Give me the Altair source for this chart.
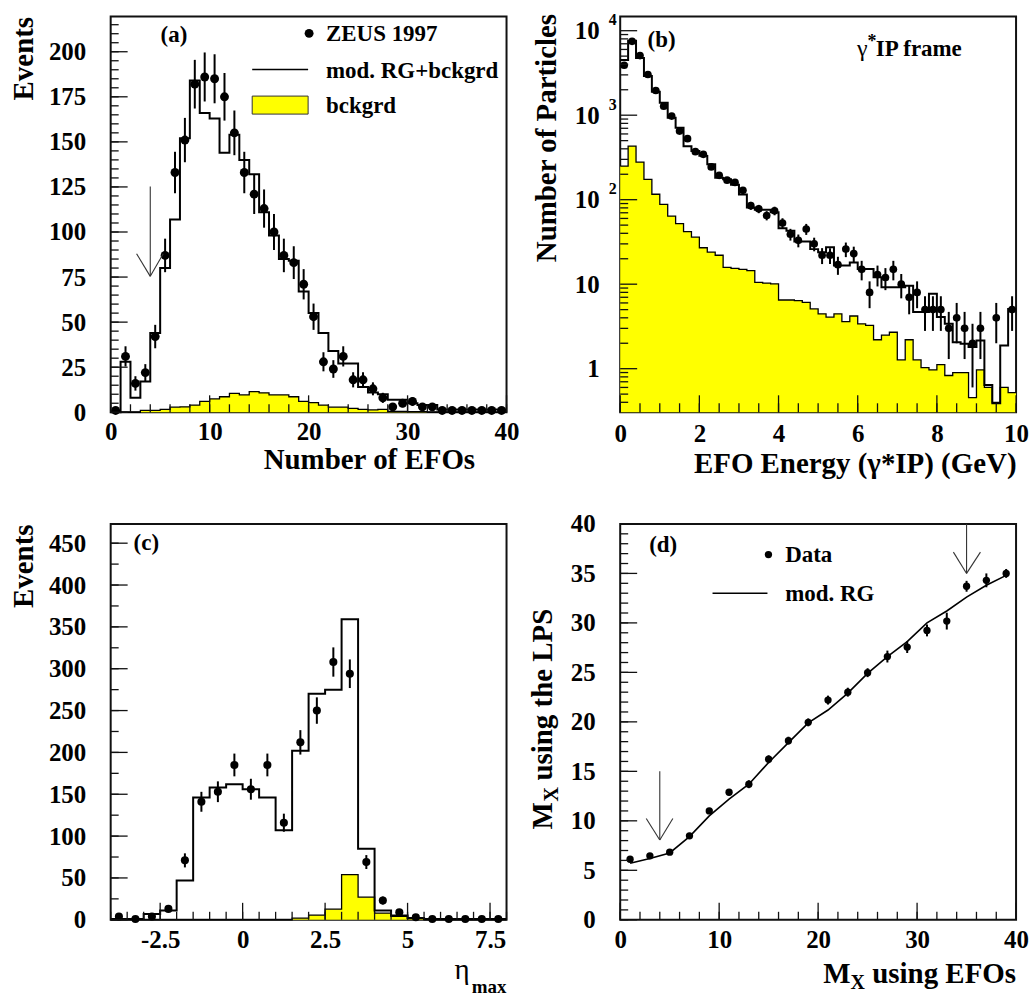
import altair as alt
import numpy as np
import pandas as pd

FONT = "Liberation Serif"
YELLOW = "#ffff00"
INK = "#000000"
TICK = "#111111"
W = 397
H = 397

# ---------------- (a) Number of EFOs ----------------
a_edges = list(range(0, 41))
a_centers = [i + 0.5 for i in range(40)]
a_data = [1, 31, 16, 22, 42, 87, 133, 151, 182, 186, 185, 175, 155, 133, 121, 113, 100, 87, 83, 71,
          53, 28, 24, 31, 18, 18, 13, 8, 3, 5, 6, 3, 3, 1, 1, 1, 1, 1, 1, 1]
a_err = [1.0, 5.6, 4.0, 4.7, 6.5, 9.3, 11.5, 12.3, 13.5, 13.6, 13.6, 13.2, 12.4, 11.5, 11.0, 10.6, 10.0, 9.3, 9.1, 8.4,
         7.3, 5.3, 4.9, 5.6, 4.2, 4.2, 3.6, 2.8, 1.7, 2.2, 2.4, 1.7, 1.7, 1.0, 1.0, 1.0, 1.0, 1.0, 1.0, 1.0]
a_mc = [0, 28, 8, 17, 44, 80, 107, 152, 184, 166, 163, 144, 154, 140, 132, 111, 98, 85, 84, 67,
        55, 44, 34, 27, 27, 14, 11, 10, 7, 7, 5, 4, 4, 1.5, 1.5, 1.5, 1.5, 1.5, 1.5, 1.5]
a_bg = [0, 0, 0, 1, 1, 1.6, 2.8, 3, 4, 6, 7.4, 8.6, 10.5, 9.6, 11.4, 10.8, 9.6, 9.6, 8.6, 6,
        5.3, 4, 2.8, 2.8, 2.2, 1.6, 1.3, 1.6, 0.5, 0.5, 0.3, 0.3, 0, 0, 0, 0, 0, 0, 0, 0]
a_xlabels = [0, 10, 20, 30, 40]
a_ylabels = [0, 25, 50, 75, 100, 125, 150, 175, 200]
a_xminor = list(range(0, 41, 2))
a_yminor = list(range(0, 220, 5))
a_arrow_x = [4, 2.62, 5.31]
a_arrow_y = [125.2, 87.9, 87.9]
a_arrow_x2 = [4, 4, 4]
a_arrow_y2 = [75.4, 75.4, 75.4]

# ---------------- (b) EFO energy ----------------
b_edges = [round(0.2 * i, 1) for i in range(51)]
b_x = [round(0.1 + 0.2 * i, 1) for i in range(46)] + [9.5, 9.9]
b_data = [3900, 7480, 5070, 3030, 1960, 1280, 976, 649, 527, 370, 344, 244, 194, 170, 160, 129, 85, 78, 65, 74,
          53, 39, 33, 45, 30, 22, 22, 17, 26, 23, 15, 8, 13, 12, 15, 10, 7, 8, 5, 5, 5, 3, 4, 3, 2, 3, 4, 5]
b_err = [62.4, 86.5, 71.2, 55.0, 44.3, 35.8, 31.2, 25.5, 23.0, 19.2, 18.5, 15.6, 13.9, 13.0, 12.6, 11.4, 9.2, 8.8, 8.1, 8.6,
         7.3, 6.2, 5.7, 6.7, 5.5, 4.7, 4.7, 4.1, 5.1, 4.8, 3.9, 2.8, 3.6, 3.5, 3.9, 3.2, 2.6, 2.8, 2.2, 2.2, 2.2, 1.7, 2.0, 1.7,
         1.4, 1.7, 2.0, 2.2]
b_mc = [4500, 7600, 4750, 2900, 1900, 1400, 930, 710, 430, 377, 330, 262, 182, 175, 150, 115, 81, 76, 76, 71,
        46, 43, 32, 32, 26, 23.8, 27.3, 16.6, 16.6, 18.1, 15.1, 15.1, 12.1, 9.2, 9.2, 9.2, 9.6, 4.7, 4.7, 7.7,
        4.1, 3.4, 2.06, 1.97, 1.8, 2.16, 0.64, 0.39, 1.88, 5.1]
b_bg = [250, 431, 279, 174, 116, 88, 64, 52, 42, 36, 27, 24, 22, 15.8, 15.4, 15, 14.5, 10.5, 10.3, 10.1,
        6.5, 6.5, 6.4, 6.1, 5.1, 4.46, 4.07, 4.46, 3.6, 4.2, 3.4, 3.25, 2.2, 2.5, 2.7, 1.27, 2.2, 1.27, 1.03, 0.97,
        1.12, 0.83, 0.9, 0.9, 0.455, 0.97, 0.6, 0.4, 0.6, 0.52]
b_xlabels = [0, 2, 4, 6, 8, 10]
b_xminor = [0.5 * i for i in range(21)]
b_decades = [1, 10, 100, 1000, 10000]
b_minor = [round(m * 10.0 ** e, 6) for e in range(-1, 4) for m in range(2, 10) if m * 10.0 ** e > 0.31]

# ---------------- (c) eta_max ----------------
c_edges = [-4 + 0.5 * i for i in range(25)]
c_centers = [-3.75 + 0.5 * i for i in range(24)]
c_data = [4, 1, 4, 13, 71, 141, 153, 185, 156, 185, 116, 212, 250, 308, 294, 69, 23, 9, 3, 1, 1, 1, 1, 1]
c_err = [2.0, 1.0, 2.0, 3.6, 8.4, 11.9, 12.4, 13.6, 12.5, 13.6, 10.8, 14.6, 15.8, 17.5, 17.1, 8.3, 4.8, 3.0, 1.7,
         1.0, 1.0, 1.0, 1.0, 1.0]
c_mc = [1, 1, 7, 11, 47, 146, 158, 162, 156, 146, 107, 202, 270, 275, 359, 85, 11, 5, 2, 1, 1, 1, 1, 1]
c_bg = [0, 0, 0, 0, 0, 0, 0, 0, 0, 0, 0, 2, 5.5, 12.7, 54, 27, 8, 4, 1.5, 0, 0, 0, 0, 0]
c_xlabels = [-2.5, 0, 2.5, 5, 7.5]
c_ylabels = [0, 50, 100, 150, 200, 250, 300, 350, 400, 450]
c_xminor = [-4 + 0.5 * i for i in range(25)]
c_yminor = list(range(0, 473, 25))

# ---------------- (d) M_X ----------------
d_x = list(range(1, 40, 2))
d_y = [6.12, 6.46, 6.83, 8.48, 11.0, 12.89, 13.7, 16.22, 18.1, 19.95, 22.2, 23.0, 24.97, 26.6, 27.56, 29.24,
       30.18, 33.7, 34.3, 35.0]
d_err = [0.25, 0.25, 0.25, 0.3, 0.3, 0.3, 0.4, 0.4, 0.4, 0.4, 0.45, 0.45, 0.45, 0.6, 0.6, 0.6, 0.85, 0.55, 0.7, 0.45]
d_mc = [5.72, 6.2, 6.75, 8.4, 10.5, 12.2, 13.7, 15.9, 17.9, 19.9, 21.2, 22.9, 24.9, 26.6, 28.1, 30.0, 31.2, 32.6,
        33.8, 34.8]
d_xlabels = [0, 10, 20, 30, 40]
d_ylabels = [0, 5, 10, 15, 20, 25, 30, 35, 40]
d_xminor = list(range(0, 41, 2))
d_yminor = list(range(0, 41))
d_arrow_x = [4, 2.63, 5.32, 35, 33.67, 36.4]
d_arrow_y = [15.0, 10.23, 10.23, 40.0, 37.15, 37.15]
d_arrow_x2 = [4, 4, 4, 35, 35, 35]
d_arrow_y2 = [8.07, 8.07, 8.07, 35.0, 35.0, 35.0]

MAJOR = 17
MINOR = 8


# ---------------- helpers ----------------
def step_frame(edges, vals):
    return pd.DataFrame({"x": edges, "y": list(vals) + [vals[-1]]})


def point_frame(xs, ys, errs):
    return pd.DataFrame({"x": xs, "y": ys,
                         "lo": [y - e for y, e in zip(ys, errs)],
                         "hi": [y + e for y, e in zip(ys, errs)]})


def label_axis(**kw):
    base = dict(labelFont=FONT, labelFontWeight="bold", labelFontSize=25, labelColor=INK,
                ticks=False, tickSize=0, domain=False, grid=False, labelFlush=False,
                labelOverlap=False, titleFont=FONT, titleFontWeight="bold", titleFontSize=29,
                titleColor=INK)
    base.update(kw)
    return alt.Axis(**base)


def tick_marks(xs, ys, xdom, ydom, xmajor, xminor, ymajor, yminor, ylog=False, xminor_len=MINOR):
    """Inward frame ticks (ROOT style), drawn as short segments through the panel scales."""
    x0, x1 = xdom
    y0, y1 = ydom
    ux = (x1 - x0) / W

    def ystep(n):
        if ylog:
            return y0 * (y1 / y0) ** (n / H)
        return y0 + (y1 - y0) * n / H

    rows = []
    for v, n in [(v, MAJOR) for v in xmajor] + [(v, xminor_len) for v in xminor]:
        rows.append((float(v), float(y0), float(v), float(ystep(n))))
    for v, n in [(v, MAJOR) for v in ymajor] + [(v, MINOR) for v in yminor]:
        rows.append((float(x0), float(v), float(x0 + n * ux), float(v)))
    df = pd.DataFrame(rows, columns=["tx", "ty", "tx2", "ty2"])
    return alt.Chart(df).mark_rule(color=TICK, strokeWidth=1.3, opacity=1).encode(
        x=alt.X("tx:Q", scale=xs, axis=None), y=alt.Y("ty:Q", scale=ys, axis=None),
        x2="tx2:Q", y2="ty2:Q")


def ytitle(text, x, y):
    return dict(title=text, titleX=x, titleY=y, titleAngle=270, titleAlign="right",
                titleBaseline="alphabetic")


def xtitle(text, x, y):
    return dict(title=text, titleX=x, titleY=y, titleAngle=0, titleAlign="right",
                titleBaseline="alphabetic")


def texts(rows, xs, ys, size=23, weight="bold", align="left", dx=0, dy=0):
    df = pd.DataFrame(rows, columns=["x", "y", "t"])
    return alt.Chart(df).mark_text(font=FONT, fontSize=size, fontWeight=weight, align=align,
                                   baseline="alphabetic", dx=dx, dy=dy, color=INK).encode(
        x=alt.X("x:Q", scale=xs, axis=None), y=alt.Y("y:Q", scale=ys, axis=None), text="t:N")


def ptext(t, px, py, size=29, weight="bold", align="right", angle=0):
    return alt.Chart(pd.DataFrame({"t": [t]})).mark_text(
        font=FONT, fontSize=size, fontWeight=weight, align=align, baseline="alphabetic",
        angle=angle, color=INK).encode(x=alt.value(px), y=alt.value(py), text="t:N")


def arrows(xs_, ys_, x1, y1, x2, y2):
    df = pd.DataFrame({"x": x1, "y": y1, "x2": x2, "y2": y2})
    return alt.Chart(df).mark_rule(color="#333333", strokeWidth=1.1).encode(
        x=alt.X("x:Q", scale=xs_, axis=None), y=alt.Y("y:Q", scale=ys_, axis=None),
        x2="x2:Q", y2="y2:Q")


def hist_layers(xs, ys, edges, centers, data, err, mc, bg, xlab, ylab, log=False, psize=80):
    bg_df = step_frame(edges, bg)
    mc_df = step_frame(edges, mc)
    pts = point_frame(centers, data, err)
    area = alt.Chart(bg_df).mark_area(interpolate="step-after", color=YELLOW, opacity=1)
    if log:
        area = area.encode(x=alt.X("x:Q", scale=xs, axis=xlab),
                           y=alt.Y("y:Q", scale=ys, axis=ylab, stack=None), y2=alt.value(H))
    else:
        area = area.encode(x=alt.X("x:Q", scale=xs, axis=xlab),
                           y=alt.Y("y:Q", scale=ys, axis=ylab, stack=None))
    bg_line = alt.Chart(bg_df).mark_line(interpolate="step-after", color=INK, strokeWidth=1.3).encode(
        x=alt.X("x:Q", scale=xs, axis=None), y=alt.Y("y:Q", scale=ys, axis=None))
    mc_line = alt.Chart(mc_df).mark_line(interpolate="step-after", color=INK, strokeWidth=2).encode(
        x=alt.X("x:Q", scale=xs, axis=None), y=alt.Y("y:Q", scale=ys, axis=None))
    bars = alt.Chart(pts).mark_rule(color=INK, strokeWidth=2).encode(
        x=alt.X("x:Q", scale=xs, axis=None), y=alt.Y("lo:Q", scale=ys, axis=None), y2="hi:Q")
    dots = alt.Chart(pts).mark_circle(size=psize, color=INK, opacity=1).encode(
        x=alt.X("x:Q", scale=xs, axis=None), y=alt.Y("y:Q", scale=ys, axis=None))
    return [area, bg_line, mc_line, bars, dots]


def panel(layers):
    return alt.layer(*layers).resolve_axis(x="independent", y="independent").properties(
        width=W, height=H)


# ---------------- panel (a) ----------------
a_xdom, a_ydom = [0, 40], [0, 219.6]
xs_a = alt.Scale(domain=a_xdom, nice=False, zero=False)
ys_a = alt.Scale(domain=a_ydom, nice=False, zero=False)
la = hist_layers(
    xs_a, ys_a, a_edges, a_centers, a_data, a_err, a_mc, a_bg,
    label_axis(values=a_xlabels, labelPadding=7, labelBaseline="top",
               **xtitle("Number of EFOs", 365, 56)),
    label_axis(values=a_ylabels, labelPadding=25, labelBaseline="middle",
               **ytitle("Events", -78, 0)),
)
a_leg_dot = alt.Chart(pd.DataFrame({"x": [20.05], "y": [210.2]})).mark_circle(size=80, color=INK, opacity=1).encode(
    x=alt.X("x:Q", scale=xs_a, axis=None), y=alt.Y("y:Q", scale=ys_a, axis=None))
a_leg_line = alt.Chart(pd.DataFrame({"x": [14.3], "x2": [19.95], "y": [190.2]})).mark_rule(color=INK, strokeWidth=1.5).encode(
    x=alt.X("x:Q", scale=xs_a, axis=None), x2="x2:Q", y=alt.Y("y:Q", scale=ys_a, axis=None))
a_leg_box = alt.Chart(pd.DataFrame({"x": [14.3], "x2": [19.95], "y": [175.4], "y2": [165.4]})).mark_rect(
    color=YELLOW, stroke="#333333", strokeWidth=1).encode(
    x=alt.X("x:Q", scale=xs_a, axis=None), x2="x2:Q", y=alt.Y("y:Q", scale=ys_a, axis=None), y2="y2:Q")
la += [arrows(xs_a, ys_a, a_arrow_x, a_arrow_y, a_arrow_x2, a_arrow_y2), a_leg_dot, a_leg_line, a_leg_box,
       texts([(5.04, 205.3, "(a)"), (21.76, 205.8, "ZEUS 1997"), (21.76, 185.2, "mod. RG+bckgrd"),
              (21.76, 166.0, "bckgrd")], xs_a, ys_a),
       tick_marks(xs_a, ys_a, a_xdom, a_ydom, a_xlabels, a_xminor, a_ylabels, a_yminor)]
pa = panel(la)

# ---------------- panel (b) ----------------
b_xdom, b_ydom = [0, 10], [0.305, 14760]
xs_b = alt.Scale(domain=b_xdom, nice=False, zero=False)
ys_b = alt.Scale(type="log", domain=b_ydom, nice=False)
lb = hist_layers(
    xs_b, ys_b, b_edges, b_x, b_data, b_err, b_mc, b_bg,
    label_axis(values=b_xlabels, labelPadding=9, labelBaseline="top",
               **xtitle("EFO Energy (γ*IP) (GeV)", 397, 60)),
    label_axis(values=b_decades, labelExpr="datum.value == 1 ? '1' : '10'", labelPadding=21,
               labelBaseline="middle", **ytitle("Number of Particles", -65, -3)),
    log=True, psize=60,
)
# superscript exponents of the 10^n labels
lb[2] = lb[2].encode(y=alt.Y("y:Q", scale=ys_b, axis=label_axis(
    orient="left", values=[100, 1000, 10000],
    labelExpr="datum.value == 100 ? '2' : (datum.value == 1000 ? '3' : '4')",
    labelFontSize=16, labelPadding=4, labelOffset=-11, labelBaseline="middle", title=None)))
lb += [texts([(0.69, 6350, "(b)")], xs_b, ys_b),
       texts([(5.98, 5070, "γ")], xs_b, ys_b, size=24, weight="normal"),
       texts([(5.98, 5070, "*")], xs_b, ys_b, size=18, dx=10.5, dy=-9),
       texts([(5.98, 5070, "IP frame")], xs_b, ys_b, dx=19),
       tick_marks(xs_b, ys_b, b_xdom, b_ydom, b_xlabels, b_xminor, b_decades, b_minor, ylog=True,
                  xminor_len=9)]
pb = panel(lb)

# ---------------- panel (c) ----------------
c_xdom, c_ydom = [-4, 8], [0, 473]
xs_c = alt.Scale(domain=c_xdom, nice=False, zero=False)
ys_c = alt.Scale(domain=c_ydom, nice=False, zero=False)
lc = hist_layers(
    xs_c, ys_c, c_edges, c_centers, c_data, c_err, c_mc, c_bg,
    label_axis(values=c_xlabels, labelExpr="'' + datum.value", labelPadding=8, labelBaseline="top",
               title=None),
    label_axis(values=c_ylabels, labelPadding=25, labelBaseline="middle",
               **ytitle("Events", -78, 0)),
    psize=66,
)
lc += [texts([(-3.305, 442, "(c)")], xs_c, ys_c),
       ptext("η", 360, H + 59, size=29, weight="normal"),
       ptext("max", 397, H + 73, size=19),
       tick_marks(xs_c, ys_c, c_xdom, c_ydom, c_xlabels, c_xminor, c_ylabels, c_yminor)]
pc = panel(lc)

# ---------------- panel (d) ----------------
d_xdom, d_ydom = [0, 40], [0, 40]
xs_d = alt.Scale(domain=d_xdom, nice=False, zero=False)
ys_d = alt.Scale(domain=d_ydom, nice=False, zero=False)
d_pts = point_frame(d_x, d_y, d_err)
d_line_df = pd.DataFrame({"x": d_x, "y": d_mc})
ld = [
    alt.Chart(d_line_df).mark_line(color=INK, strokeWidth=1.6).encode(
        x=alt.X("x:Q", scale=xs_d, axis=label_axis(values=d_xlabels, labelPadding=8, labelBaseline="top",
                                                    title=None)),
        y=alt.Y("y:Q", scale=ys_d, axis=label_axis(values=d_ylabels, labelPadding=25,
                                                    labelBaseline="middle", title=None))),
    alt.Chart(d_pts).mark_rule(color=INK, strokeWidth=2).encode(
        x=alt.X("x:Q", scale=xs_d, axis=None), y=alt.Y("lo:Q", scale=ys_d, axis=None), y2="hi:Q"),
    alt.Chart(d_pts).mark_circle(size=54, color=INK, opacity=1).encode(
        x=alt.X("x:Q", scale=xs_d, axis=None), y=alt.Y("y:Q", scale=ys_d, axis=None)),
    arrows(xs_d, ys_d, d_arrow_x, d_arrow_y, d_arrow_x2, d_arrow_y2),
    alt.Chart(pd.DataFrame({"x": [14.98], "y": [36.9]})).mark_circle(size=54, color=INK, opacity=1).encode(
        x=alt.X("x:Q", scale=xs_d, axis=None), y=alt.Y("y:Q", scale=ys_d, axis=None)),
    alt.Chart(pd.DataFrame({"x": [9.33], "x2": [14.88], "y": [33.0]})).mark_rule(color=INK, strokeWidth=1.5).encode(
        x=alt.X("x:Q", scale=xs_d, axis=None), x2="x2:Q", y=alt.Y("y:Q", scale=ys_d, axis=None)),
    texts([(2.93, 37.2, "(d)"), (16.67, 36.2, "Data"), (16.67, 32.2, "mod. RG")], xs_d, ys_d),
    # x title  M_X using EFOs
    ptext("using EFOs", 397, H + 63),
    ptext("X", 245.5, H + 69, size=20),
    ptext("M", 231, H + 63),
    # y title  M_X using the LPS (rotated)
    ptext("using the LPS", -68, 85, angle=270),
    ptext("X", -62, 85 + 179, size=20, angle=270),
    ptext("M", -68, 85 + 194, angle=270),
    tick_marks(xs_d, ys_d, d_xdom, d_ydom, d_xlabels, d_xminor, d_ylabels, d_yminor),
]
pdd = panel(ld)

chart = alt.concat(
    pa, pb, pc, pdd, columns=2, spacing={"row": 112, "column": 114}, bounds="flush",
    padding={"left": 9, "top": 9, "right": 4, "bottom": 4}, background="white",
).configure_view(stroke="#111111", strokeWidth=2)

chart.save("out.html", embed_options={"renderer": "svg", "actions": False})
